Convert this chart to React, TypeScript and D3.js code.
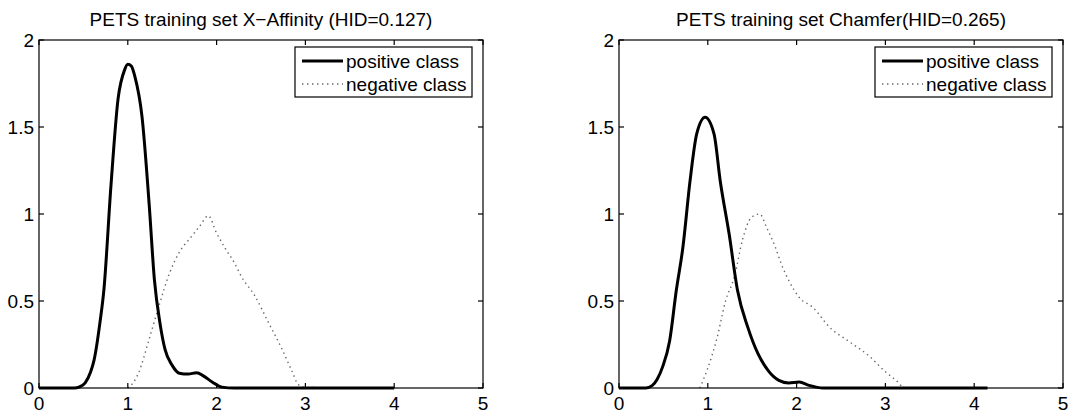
import React from "react";
import * as d3 from "d3";

const xTicks = [0, 1, 2, 3, 4, 5];
const yTicks = [0, 0.5, 1, 1.5, 2];
const yTickLabels = ["0", "0.5", "1", "1.5", "2"];
const legendLabels = ["positive class", "negative class"];

const leftTitle = "PETS training set X\u2212Affinity (HID=0.127)";
const rightTitle = "PETS training set Chamfer(HID=0.265)";

const leftPosX = [0, 0.4, 0.45, 0.52, 0.58, 0.62, 0.69, 0.73, 0.81, 0.89, 0.965, 1.0, 1.04, 1.08, 1.16, 1.24, 1.3, 1.36, 1.42, 1.5, 1.58, 1.68, 1.776, 1.85, 1.95, 2.06, 2.2, 4.0];
const leftPosY = [0, 0, 0.005, 0.03, 0.09, 0.16, 0.39, 0.56, 1.16, 1.66, 1.83, 1.86, 1.85, 1.79, 1.56, 1.06, 0.62, 0.38, 0.22, 0.13, 0.085, 0.08, 0.088, 0.07, 0.035, 0.005, 0, 0];

const leftNegX = [1.0, 1.06, 1.12, 1.24, 1.35, 1.47, 1.58, 1.7, 1.81, 1.906, 2.0, 2.1, 2.2, 2.28, 2.43, 2.59, 2.74, 2.85, 2.92, 3.0, 3.95];
const leftNegY = [0, 0.03, 0.086, 0.28, 0.47, 0.66, 0.78, 0.86, 0.93, 0.99, 0.89, 0.8, 0.72, 0.64, 0.53, 0.37, 0.22, 0.095, 0.02, 0.003, 0];

const rightPosX = [0, 0.3, 0.376, 0.43, 0.49, 0.57, 0.645, 0.72, 0.8, 0.875, 0.97, 1.07, 1.14, 1.24, 1.335, 1.45, 1.565, 1.68, 1.8, 1.91, 2.03, 2.14, 2.3, 4.15];
const rightPosY = [0, 0, 0.015, 0.05, 0.12, 0.27, 0.56, 0.81, 1.19, 1.46, 1.556, 1.46, 1.19, 0.886, 0.56, 0.35, 0.197, 0.1, 0.044, 0.029, 0.034, 0.015, 0, 0];

const rightNegX = [0.91, 0.99, 1.105, 1.2, 1.3, 1.39, 1.49, 1.585, 1.66, 1.76, 1.83, 1.91, 2.03, 2.18, 2.37, 2.6, 2.83, 2.985, 3.12, 3.22, 4.1];
const rightNegY = [0, 0.1, 0.29, 0.5, 0.64, 0.85, 0.98, 1.0, 0.925, 0.81, 0.71, 0.62, 0.52, 0.465, 0.35, 0.264, 0.178, 0.1, 0.044, 0, 0];

const FONT = "'Liberation Sans', Arial, Helvetica, sans-serif";
const FS = 19;
const TOP = 40;
const BOTTOM = 388;

type PanelProps = {
  x0: number;
  x1: number;
  title: string;
  posX: number[];
  posY: number[];
  negX: number[];
  negY: number[];
};

function Panel({ x0, x1, title, posX, posY, negX, negY }: PanelProps) {
  const x = d3.scaleLinear().domain([0, 5]).range([x0, x1]);
  const y = d3.scaleLinear().domain([0, 2]).range([BOTTOM, TOP]);
  const line = d3
    .line<[number, number]>()
    .x((d) => x(d[0]))
    .y((d) => y(d[1]))
    .curve(d3.curveMonotoneX);
  const pos = line(posX.map((v, i) => [v, posY[i]] as [number, number])) || "";
  const neg = line(negX.map((v, i) => [v, negY[i]] as [number, number])) || "";
  const tl = 5;
  const lgW = 177;
  const lgH = 50;
  const lgX = x1 - 11 - lgW;
  const lgY = TOP + 7;
  return (
    <g>
      <text
        x={(x0 + x1) / 2}
        y={26}
        textAnchor="middle"
        fontFamily={FONT}
        fontSize={FS}
        fill="#000"
      >
        {title}
      </text>
      <path d={neg} fill="none" stroke="#666" strokeWidth={1.4} strokeDasharray="1.4 3.6" />
      <path d={pos} fill="none" stroke="#000" strokeWidth={3} strokeLinejoin="round" />
      <rect x={x0} y={TOP} width={x1 - x0} height={BOTTOM - TOP} fill="none" stroke="#000" strokeWidth={1.2} />
      {xTicks.map((t) => (
        <g key={"x" + t}>
          <line x1={x(t)} x2={x(t)} y1={BOTTOM} y2={BOTTOM - tl} stroke="#000" strokeWidth={1.2} />
          <line x1={x(t)} x2={x(t)} y1={TOP} y2={TOP + tl} stroke="#000" strokeWidth={1.2} />
          <text x={x(t)} y={BOTTOM + 22} textAnchor="middle" fontFamily={FONT} fontSize={FS} fill="#000">
            {String(t)}
          </text>
        </g>
      ))}
      {yTicks.map((t, i) => (
        <g key={"y" + t}>
          <line x1={x0} x2={x0 + tl} y1={y(t)} y2={y(t)} stroke="#000" strokeWidth={1.2} />
          <line x1={x1} x2={x1 - tl} y1={y(t)} y2={y(t)} stroke="#000" strokeWidth={1.2} />
          <text x={x0 - 5} y={y(t) + 6.8} textAnchor="end" fontFamily={FONT} fontSize={FS} fill="#000">
            {yTickLabels[i]}
          </text>
        </g>
      ))}
      <rect x={lgX} y={lgY} width={lgW} height={lgH} fill="#fff" stroke="#000" strokeWidth={1.2} />
      <line x1={lgX + 7} x2={lgX + 48} y1={lgY + 14} y2={lgY + 14} stroke="#000" strokeWidth={3} />
      <line x1={lgX + 7} x2={lgX + 48} y1={lgY + 37} y2={lgY + 37} stroke="#666" strokeWidth={1.4} strokeDasharray="1.4 3.6" />
      <text x={lgX + 51} y={lgY + 21} fontFamily={FONT} fontSize={FS} fill="#000">
        {legendLabels[0]}
      </text>
      <text x={lgX + 51} y={lgY + 44} fontFamily={FONT} fontSize={FS} fill="#000">
        {legendLabels[1]}
      </text>
    </g>
  );
}

export default function App() {
  return (
    <svg
      width={1074}
      height={414}
      style={{ position: "absolute", left: 0, top: 0, background: "#fff" }}
    >
      <rect x={0} y={0} width={1074} height={414} fill="#fff" />
      <Panel x0={39} x1={483} title={leftTitle} posX={leftPosX} posY={leftPosY} negX={leftNegX} negY={leftNegY} />
      <Panel x0={619} x1={1063} title={rightTitle} posX={rightPosX} posY={rightPosY} negX={rightNegX} negY={rightNegY} />
    </svg>
  );
}
